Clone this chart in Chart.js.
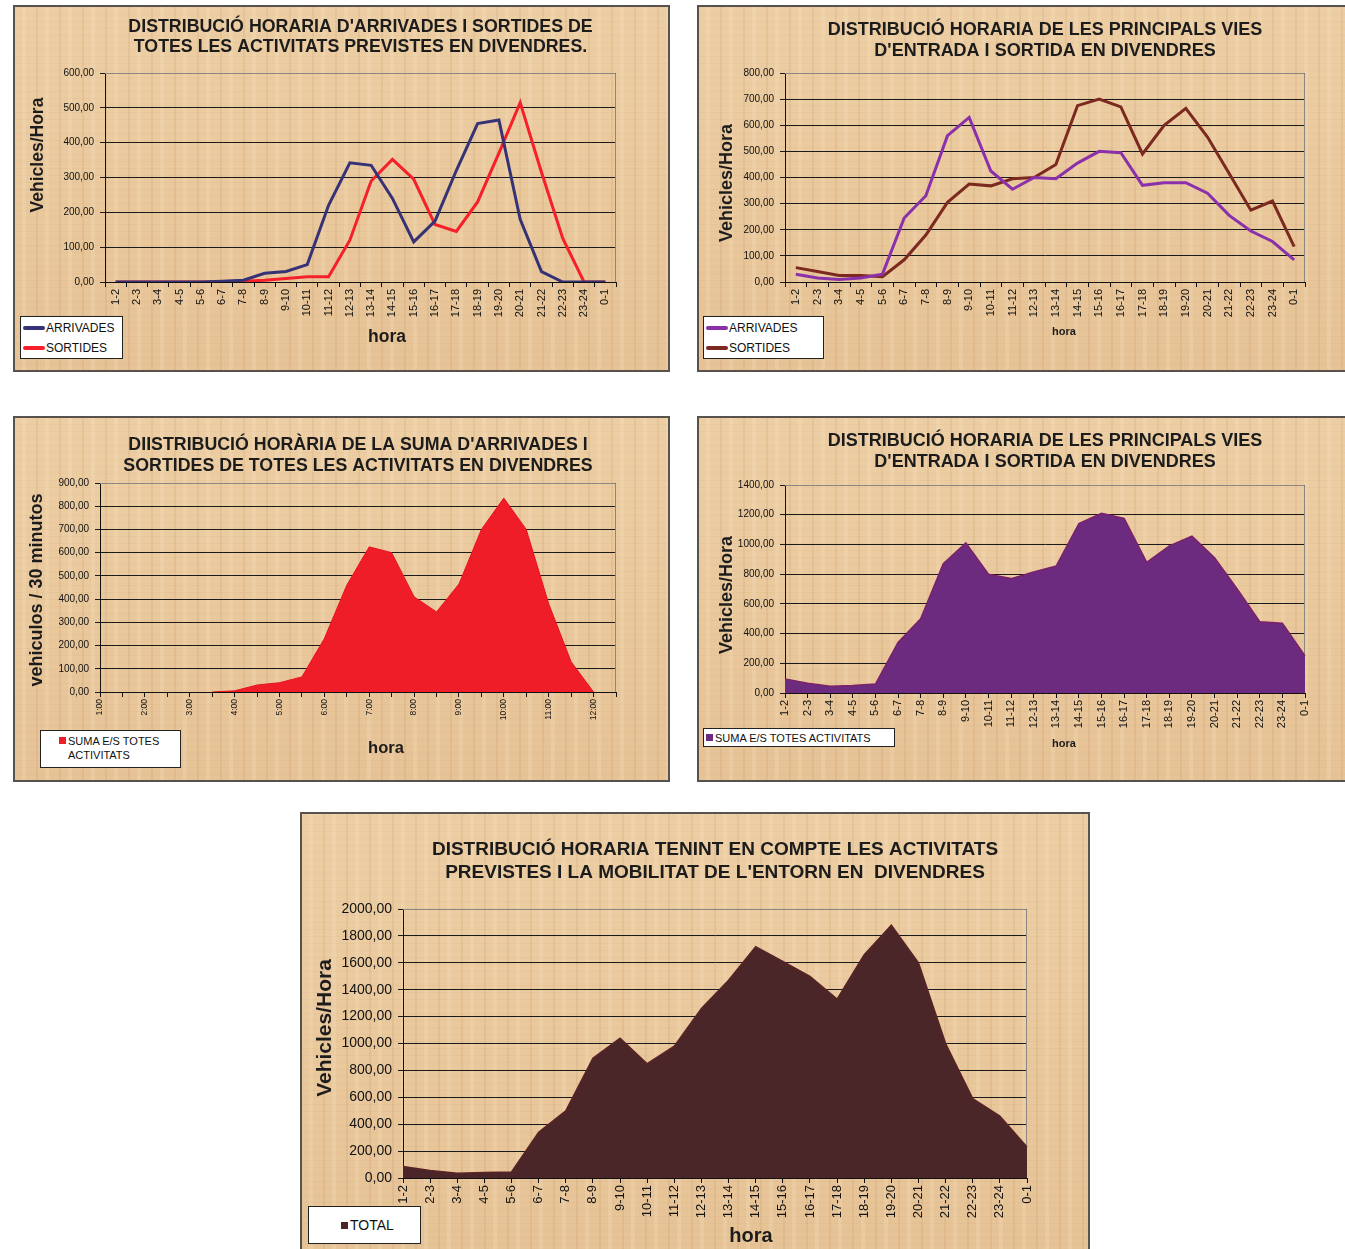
<!DOCTYPE html>
<html>
<head>
<meta charset="utf-8">
<script src="https://cdn.jsdelivr.net/npm/chart.js@4.4.1/dist/chart.umd.min.js"></script>
<style>
  body { margin: 0; background: #fff; }
  #page { position: relative; width: 1345px; height: 1249px; overflow: hidden; }
  .panel {
    position: absolute;
    background-color: #e9c89b;
    background-image:
      repeating-linear-gradient(90deg, rgba(130,80,40,0.08) 0px, rgba(130,80,40,0.08) 2px, transparent 2px, transparent 9px, rgba(255,240,215,0.16) 9px, rgba(255,240,215,0.16) 13px, transparent 13px, transparent 23px),
      repeating-linear-gradient(0deg, rgba(130,80,40,0.04) 0px, rgba(130,80,40,0.04) 1px, transparent 1px, transparent 7px),
      linear-gradient(180deg, rgba(255,235,205,0.18), rgba(205,150,100,0.10));
    box-shadow: inset 0 0 0 2px #57524c;
  }
  .panel canvas { position: absolute; left: 0; top: 0; }
  .legend {
    position: absolute; background: #fff; border: 1.5px solid #222; box-sizing: border-box;
    color: #111; font-family: "Liberation Sans", Arial, sans-serif;
    display: flex; flex-direction: column; justify-content: center;
  }
  .legend .row { display: flex; align-items: center; }
  .legend .mk-line { display: inline-block; width: 22px; height: 4px; border-radius: 2px; margin-right: 1px; }
  .legend .mk-sq { display: inline-block; width: 7px; height: 7px; margin-right: 2px; flex: none; }
</style>
</head>
<body>
<div id="page">
  <div class="panel" id="p1" style="left:13px;top:5px;width:657px;height:367px"><canvas id="c1" width="657" height="367"></canvas></div>
  <div class="panel" id="p2" style="left:697px;top:5px;width:650px;height:367px"><canvas id="c2" width="650" height="367"></canvas></div>
  <div class="panel" id="p3" style="left:13px;top:416px;width:657px;height:366px"><canvas id="c3" width="657" height="366"></canvas></div>
  <div class="panel" id="p4" style="left:697px;top:416px;width:650px;height:366px"><canvas id="c4" width="650" height="366"></canvas></div>
  <div class="panel" id="p5" style="left:300px;top:812px;width:790px;height:440px"><canvas id="c5" width="790" height="440"></canvas></div>
</div>
<script>
// hourly categories
const hourRanges = ['1-2', '2-3', '3-4', '4-5', '5-6', '6-7', '7-8', '8-9', '9-10', '10-11', '11-12', '12-13',
  '13-14', '14-15', '15-16', '16-17', '17-18', '18-19', '19-20', '20-21', '21-22', '22-23', '23-24', '0-1'];
// half-hour categories (chart 3)
const halfHours = ['1:00', '1:30', '2:00', '2:30', '3:00', '3:30', '4:00', '4:30', '5:00', '5:30', '6:00', '6:30',
  '7:00', '7:30', '8:00', '8:30', '9:00', '9:30', '10:00', '10:30', '11:00', '11:30', '12:00', '12:30'];

// activitats previstes
const actArrivals = [0, 0, 0, 0, 0, 2, 5, 25, 30, 50, 220, 342, 335, 240, 115, 175, 320, 455, 465, 180, 30, 0, 0, 0];
const actDepartures = [0, 0, 0, 0, 0, 0, 2, 5, 10, 15, 15, 120, 290, 352, 295, 165, 145, 230, 370, 515, 315, 125, 0, 0];

// principals vies
const roadArrivals = [30, 15, 10, 15, 30, 245, 330, 560, 630, 425, 355, 400, 395, 455, 500, 495, 370, 380, 380, 340, 255, 195, 155, 85];
const roadDepartures = [55, 40, 25, 25, 20, 85, 180, 305, 375, 368, 395, 400, 450, 675, 700, 670, 490, 600, 665, 555, 415, 275, 310, 135];

// sums
const actSumHalfHour = [null, null, null, null, null, 0, 5, 30, 40, 65, 230, 460, 625, 600, 410, 345, 465, 700, 835, 700, 380, 130, 0, null];
const roadSum = [95, 65, 45, 50, 60, 340, 500, 870, 1010, 800, 770, 815, 855, 1140, 1210, 1175, 880, 990, 1055, 910, 700, 480, 470, 250];
const totalSum = [85, 55, 35, 40, 45, 340, 500, 890, 1040, 850, 980, 1260, 1470, 1720, 1610, 1500, 1330, 1660, 1880, 1600, 1000, 590, 460, 230];

// y axis ranges [max, step]
const yAxis1 = [600, 100];
const yAxis2 = [800, 100];
const yAxis3 = [900, 100];
const yAxis4 = [1400, 200];
const yAxis5 = [2000, 200];

const FAMILY = '"Liberation Sans", Arial, Helvetica, sans-serif';

// free text (titles, axis titles)
const panelText = {
  id: 'panelText',
  afterDraw(chart, args, opts) {
    const ctx = chart.ctx;
    const area = chart.chartArea;
    (opts.items || []).forEach(it => {
      ctx.save();
      ctx.fillStyle = it.color || '#1c1c1c';
      ctx.textAlign = 'center';
      ctx.textBaseline = 'middle';
      ctx.font = 'bold ' + it.size + 'px ' + FAMILY;
      const x = it.x === 'center' ? (area.left + area.right) / 2 : it.x;
      ctx.translate(x, it.y);
      if (it.rotate) ctx.rotate(-Math.PI / 2);
      ctx.fillText(it.text, 0, 0);
      ctx.restore();
    });
  }
};

// grey frame round the plot area
const plotFrame = {
  id: 'plotFrame',
  beforeDatasetsDraw(chart) {
    const a = chart.chartArea;
    const ctx = chart.ctx;
    ctx.save();
    ctx.strokeStyle = '#8c8680';
    ctx.lineWidth = 1;
    ctx.beginPath();
    ctx.moveTo(a.left, a.top + 0.5);
    ctx.lineTo(a.right - 0.5, a.top + 0.5);
    ctx.lineTo(a.right - 0.5, a.bottom);
    ctx.stroke();
    ctx.restore();
  }
};

function fmt(v) {
  return Number(v).toFixed(2).replace('.', ',');
}

function buildChart(p) {
  const canvas = document.getElementById(p.id);
  const W = canvas.width, H = canvas.height;
  return new Chart(canvas, {
    type: 'line',
    data: { labels: p.labels, datasets: p.datasets },
    options: {
      responsive: false,
      animation: false,
      devicePixelRatio: 1,
      layout: { padding: { left: 0, top: p.plot.top, right: W - p.plot.right, bottom: 0 } },
      elements: { point: { radius: 0, hoverRadius: 0 }, line: { tension: 0 } },
      plugins: {
        legend: { display: false },
        tooltip: { enabled: false },
        panelText: { items: p.texts }
      },
      scales: {
        x: {
          offset: p.offset,
          grid: { offset: p.offset, drawOnChartArea: false, color: '#111', tickLength: 5 },
          border: { color: '#111', width: 1 },
          ticks: {
            autoSkip: false, minRotation: 90, maxRotation: 90, padding: 2, color: '#111',
            font: { family: FAMILY, size: p.xFont },
            callback: function (value, index) {
              if (p.everyOther && index % 2) return '';
              return this.getLabelForValue(value);
            }
          },
          afterFit: s => { s.height = H - p.plot.bottom; }
        },
        y: {
          min: 0,
          max: p.y[0],
          ticks: {
            stepSize: p.y[1], padding: 6, color: '#111',
            font: { family: FAMILY, size: p.yFont },
            callback: v => fmt(v)
          },
          grid: { color: '#1a1a1a', lineWidth: 1, tickLength: 5 },
          border: { color: '#111', width: 1 },
          afterFit: s => { s.width = p.plot.left; }
        }
      }
    },
    plugins: [panelText, plotFrame]
  });
}

function buildLegend(chart, panelId, L) {
  const box = document.createElement('div');
  box.className = 'legend';
  box.style.left = L.left + 'px';
  box.style.top = L.top + 'px';
  box.style.width = L.w + 'px';
  box.style.height = L.h + 'px';
  box.style.fontSize = L.size + 'px';
  box.style.paddingLeft = L.pad + 'px';
  chart.data.datasets.forEach(ds => {
    const row = document.createElement('div');
    row.className = 'row';
    row.style.height = L.rowH + 'px';
    if (L.wrap) row.style.alignItems = 'flex-start';
    const mk = document.createElement('span');
    if (L.marker === 'line') {
      mk.className = 'mk-line';
      mk.style.background = ds.borderColor;
    } else {
      mk.className = 'mk-sq';
      mk.style.background = ds.backgroundColor;
      if (L.wrap) mk.style.marginTop = '3px';
    }
    const tx = document.createElement('span');
    tx.textContent = ds.label;
    if (L.wrap) { tx.style.width = L.wrap + 'px'; tx.style.lineHeight = '14px'; }
    row.appendChild(mk);
    row.appendChild(tx);
    box.appendChild(row);
  });
  document.getElementById(panelId).appendChild(box);
}

const c1 = buildChart({
  id: 'c1', labels: hourRanges, offset: true, y: yAxis1, xFont: 11, yFont: 10,
  plot: { left: 92, top: 68, right: 603, bottom: 277 },
  datasets: [
    { label: 'ARRIVADES', data: actArrivals, borderColor: '#363276', borderWidth: 3, fill: false },
    { label: 'SORTIDES', data: actDepartures, borderColor: '#f5202a', borderWidth: 3, fill: false }
  ],
  texts: [
    { text: "DISTRIBUCIÓ HORARIA D'ARRIVADES I SORTIDES DE", x: 'center', y: 22, size: 17.8 },
    { text: 'TOTES LES ACTIVITATS PREVISTES EN DIVENDRES.', x: 'center', y: 42, size: 17.8 },
    { text: 'Vehicles/Hora', x: 25, y: 150, size: 17.5, rotate: true },
    { text: 'hora', x: 374, y: 332, size: 17.5 }
  ]
});
buildLegend(c1, 'p1', { left: 7, top: 311, w: 103, h: 43, size: 12, rowH: 20, pad: 2, marker: 'line' });

const c2 = buildChart({
  id: 'c2', labels: hourRanges, offset: true, y: yAxis2, xFont: 11, yFont: 10,
  plot: { left: 88, top: 68, right: 608, bottom: 277 },
  datasets: [
    { label: 'ARRIVADES', data: roadArrivals, borderColor: '#8a30aa', borderWidth: 3, fill: false },
    { label: 'SORTIDES', data: roadDepartures, borderColor: '#7c2a20', borderWidth: 3, fill: false }
  ],
  texts: [
    { text: 'DISTRIBUCIÓ HORARIA DE LES PRINCIPALS VIES', x: 'center', y: 25, size: 18 },
    { text: "D'ENTRADA I SORTIDA EN DIVENDRES", x: 'center', y: 46, size: 18 },
    { text: 'Vehicles/Hora', x: 30, y: 178, size: 18, rotate: true },
    { text: 'hora', x: 367, y: 327, size: 11 }
  ]
});
buildLegend(c2, 'p2', { left: 6, top: 311, w: 121, h: 43, size: 12, rowH: 20, pad: 2, marker: 'line' });

const c3 = buildChart({
  id: 'c3', labels: halfHours, offset: false, everyOther: true, y: yAxis3, xFont: 8.5, yFont: 10,
  plot: { left: 87, top: 67, right: 603, bottom: 276 },
  datasets: [
    { label: 'SUMA E/S TOTES ACTIVITATS', data: actSumHalfHour, borderColor: '#e8121f', backgroundColor: '#ef1d27', borderWidth: 1, fill: 'origin' }
  ],
  texts: [
    { text: "DIISTRIBUCIÓ HORÀRIA DE LA SUMA D'ARRIVADES I", x: 'center', y: 29, size: 17.8 },
    { text: 'SORTIDES DE TOTES LES ACTIVITATS EN DIVENDRES', x: 'center', y: 50, size: 17.8 },
    { text: 'vehiculos / 30 minutos', x: 24, y: 174, size: 18, rotate: true },
    { text: 'hora', x: 373, y: 332, size: 16.5 }
  ]
});
buildLegend(c3, 'p3', { left: 27, top: 314, w: 141, h: 38, size: 11, rowH: 30, pad: 18, marker: 'square', wrap: 105 });

const c4 = buildChart({
  id: 'c4', labels: hourRanges, offset: false, y: yAxis4, xFont: 11, yFont: 10,
  plot: { left: 88, top: 69, right: 608, bottom: 277 },
  datasets: [
    { label: 'SUMA E/S TOTES ACTIVITATS', data: roadSum, borderColor: '#7a2168', backgroundColor: '#6d2b80', borderWidth: 1.5, fill: 'origin' }
  ],
  texts: [
    { text: 'DISTRIBUCIÓ HORARIA DE LES PRINCIPALS VIES', x: 'center', y: 25, size: 18 },
    { text: "D'ENTRADA I SORTIDA EN DIVENDRES", x: 'center', y: 46, size: 18 },
    { text: 'Vehicles/Hora', x: 30, y: 179, size: 18, rotate: true },
    { text: 'hora', x: 367, y: 328, size: 11 }
  ]
});
buildLegend(c4, 'p4', { left: 6, top: 312, w: 192, h: 19, size: 11, rowH: 16, pad: 2, marker: 'square' });

const c5 = buildChart({
  id: 'c5', labels: hourRanges, offset: false, y: yAxis5, xFont: 13, yFont: 14,
  plot: { left: 103, top: 97, right: 727, bottom: 366 },
  datasets: [
    { label: 'TOTAL', data: totalSum, borderColor: '#5a2326', backgroundColor: '#4b2628', borderWidth: 1.5, fill: 'origin' }
  ],
  texts: [
    { text: 'DISTRIBUCIÓ HORARIA TENINT EN COMPTE LES ACTIVITATS', x: 'center', y: 38, size: 19 },
    { text: "PREVISTES I LA MOBILITAT DE L'ENTORN EN  DIVENDRES", x: 'center', y: 61, size: 19 },
    { text: 'Vehicles/Hora', x: 25, y: 216, size: 21, rotate: true },
    { text: 'hora', x: 451, y: 424, size: 20 }
  ]
});
buildLegend(c5, 'p5', { left: 8, top: 394, w: 113, h: 38, size: 14, rowH: 20, pad: 32, marker: 'square' });
</script>
</body>
</html>
